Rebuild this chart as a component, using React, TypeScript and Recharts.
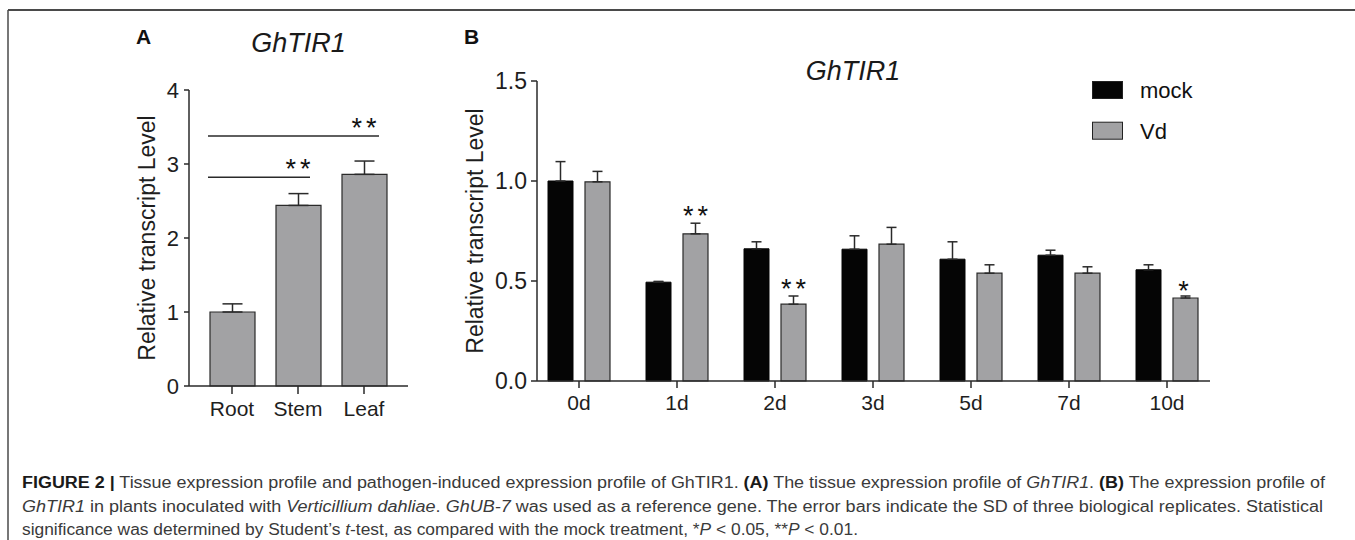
import React from "react";
import {
  BarChart,
  Bar,
  XAxis,
  YAxis,
  ErrorBar,
  ReferenceLine,
  LabelList,
  Legend,
} from "recharts";

const FONT = "'Liberation Sans', Arial, Helvetica, sans-serif";
const INK = "#2a2a2a";
const GREY = "#a2a2a4";

// panel A: tissue expression
const tissues = ["Root", "Stem", "Leaf"];
const tissueLevel = [1.0, 2.44, 2.86];
const tissueSD = [0.11, 0.16, 0.18];
const tissueTicks = [0, 1, 2, 3, 4];
const tissueSig = [
  { from: "Root", to: "Leaf", y: 3.38, stars: "**" },
  { from: "Root", to: "Stem", y: 2.82, stars: "**" },
];

// panel B: time course after Vd inoculation
const days = ["0d", "1d", "2d", "3d", "5d", "7d", "10d"];
const mockLevel = [1.0, 0.494, 0.661, 0.659, 0.609, 0.629, 0.556];
const mockSD = [0.097, 0.004, 0.035, 0.067, 0.087, 0.025, 0.025];
const vdLevel = [0.996, 0.736, 0.384, 0.684, 0.539, 0.539, 0.415];
const vdSD = [0.052, 0.053, 0.041, 0.084, 0.042, 0.032, 0.01];
const vdStars = ["", "**", "**", "", "", "", "*"];
const dayTicks = [0, 0.5, 1.0, 1.5];
const seriesOrder = ["mock", "Vd"];

const tissueData = tissues.map((name, i) => ({
  name,
  level: tissueLevel[i],
  sd: [0, tissueSD[i]],
}));

const dayData = days.map((day, i) => ({
  day,
  mock: mockLevel[i],
  mockSd: [0, mockSD[i]],
  vd: vdLevel[i],
  vdSd: [0, vdSD[i]],
}));

const tickStyle = { fontSize: 21, fill: "#1e1e1e", fontFamily: FONT };
const yTickA = { ...tickStyle, fontSize: 22 };
const yTickB = { ...tickStyle, fontSize: 23 };
const axisLine = { stroke: INK, strokeWidth: 1.5 };

// rotated y-axis title, placed a fixed distance left of the axis line
const AxisTitle = ({ viewBox, gap }: any) => {
  const x = viewBox.x + viewBox.width - gap;
  const y = viewBox.y + viewBox.height / 2;
  return (
    <text
      x={x}
      y={y}
      transform={`rotate(-90 ${x} ${y})`}
      textAnchor="middle"
      dominantBaseline="central"
      fontSize={23}
      fontFamily={FONT}
      fill="#1e1e1e"
    >
      Relative transcript Level
    </text>
  );
};

const starProps = {
  fontSize: 27,
  fontFamily: FONT,
  fill: "#111",
  textAnchor: "middle" as const,
  letterSpacing: 4,
};

const SigBracket = (p: any, sig: any) => (
  <g>
    <line x1={p.x1 - 24} y1={p.y1} x2={p.x2 + (sig.to === "Leaf" ? 15 : 12)} y2={p.y2} stroke={INK} strokeWidth={1.5} />
    <text {...starProps} x={p.x2 + 2} y={p.y1 + 1}>
      {sig.stars}
    </text>
  </g>
);

const VdStar = (props: any) => {
  const { x, y, width, height, value, index } = props;
  const s = vdStars[index];
  if (!s || !value) return null;
  const top = y - (vdSD[index] * height) / value;
  return (
    <text {...starProps} x={x + width / 2 + (s.length > 1 ? 2 : 0)} y={top + (s.length > 1 ? 2 : 4)}>
      {s}
    </text>
  );
};

const LegendContent = (props: any) => {
  const items = [...(props.payload || [])].sort(
    (a: any, b: any) => seriesOrder.indexOf(a.value) - seriesOrder.indexOf(b.value)
  );
  return (
    <svg width={160} height={80} style={{ overflow: "visible" }}>
      {items.map((it: any, i: number) => (
        <g key={it.value} transform={`translate(0 ${i * 40.7})`}>
          <rect x={0.5} y={0.5} width={30} height={17} fill={it.color} stroke="#222" strokeWidth={1} />
          <text x={48} y={17} fontSize={22} fontFamily={FONT} fill="#111">
            {it.value}
          </text>
        </g>
      ))}
    </svg>
  );
};

const App = () => {
  return (
    <div style={{ position: "absolute", left: 0, top: 0, width: 1355, height: 540, background: "#fff" }}>
      <div style={{ position: "absolute", left: 0, top: 0 }}>
        <BarChart
          width={430}
          height={430}
          data={tissueData}
          margin={{ top: 90, right: 22, bottom: 14, left: 0 }}
          barSize={45}
        >
          <XAxis
            dataKey="name"
            height={30}
            interval={0}
            padding={{ left: 10, right: 11 }}
            axisLine={axisLine}
            tickLine={axisLine}
            tickSize={8}
            tickMargin={7}
            tick={tickStyle}
          />
          <YAxis
            width={189}
            domain={[0, 4]}
            ticks={tissueTicks}
            interval={0}
            axisLine={axisLine}
            tickLine={axisLine}
            tickSize={5}
            tickMargin={5}
            tick={yTickA}
            label={<AxisTitle gap={42} />}
          />
          <Bar dataKey="level" fill={GREY} stroke={INK} strokeWidth={1.2} isAnimationActive={false}>
            <ErrorBar dataKey="sd" width={10} stroke={INK} strokeWidth={1.5} direction="y" />
          </Bar>
          {tissueSig.map((sig) => (
            <ReferenceLine
              key={sig.to}
              segment={[
                { x: sig.from, y: sig.y },
                { x: sig.to, y: sig.y },
              ]}
              shape={(p: any) => SigBracket(p, sig)}
            />
          ))}
        </BarChart>
      </div>

      <div style={{ position: "absolute", left: 430, top: 0 }}>
        <BarChart
          width={925}
          height={430}
          data={dayData}
          margin={{ top: 81, right: 145, bottom: 19, left: 0 }}
          barSize={25}
          barGap={12}
        >
          <XAxis
            dataKey="day"
            height={30}
            interval={0}
            padding={{ left: -7, right: -6 }}
            axisLine={axisLine}
            tickLine={axisLine}
            tickSize={7}
            tickMargin={7}
            tick={tickStyle}
          />
          <YAxis
            width={107}
            domain={[0, 1.5]}
            ticks={dayTicks}
            interval={0}
            tickFormatter={(v: number) => v.toFixed(1)}
            axisLine={axisLine}
            tickLine={axisLine}
            tickSize={6}
            tickMargin={4}
            tick={yTickB}
            label={<AxisTitle gap={62} />}
          />
          <Legend
            layout="horizontal"
            verticalAlign="middle"
            align="center"
            content={<LegendContent />}
            wrapperStyle={{ left: 662, top: 81, width: 160, height: 80, overflow: "visible" }}
          />
          <Bar dataKey="mock" name="mock" fill="#050505" stroke="#050505" isAnimationActive={false}>
            <ErrorBar dataKey="mockSd" width={5} stroke={INK} strokeWidth={1.5} direction="y" />
          </Bar>
          <Bar dataKey="vd" name="Vd" fill={GREY} stroke={INK} strokeWidth={1.2} isAnimationActive={false}>
            <ErrorBar dataKey="vdSd" width={5} stroke={INK} strokeWidth={1.5} direction="y" />
            <LabelList dataKey="vd" content={<VdStar />} />
          </Bar>
        </BarChart>
      </div>

      <svg width={1355} height={540} style={{ position: "absolute", left: 0, top: 0, pointerEvents: "none" }}>
        <line x1={8} y1={10} x2={1355} y2={10} stroke="#4a4a4a" strokeWidth={2} />
        <line x1={8} y1={10} x2={8} y2={540} stroke="#4a4a4a" strokeWidth={1.5} />

        <text x={136} y={44} fontSize={21} fontWeight="bold" fontFamily={FONT} fill="#111">A</text>
        <text x={464} y={44} fontSize={21} fontWeight="bold" fontFamily={FONT} fill="#111">B</text>
        <text x={298.5} y={52} fontSize={27} fontStyle="italic" fontFamily={FONT} textAnchor="middle" fill="#1a1a1a">GhTIR1</text>
        <text x={853} y={80} fontSize={27} fontStyle="italic" fontFamily={FONT} textAnchor="middle" fill="#1a1a1a">GhTIR1</text>

        <g fontFamily={FONT} fontSize={16} fill="#3a3a3a">
          <text x={22} y={488} textLength={1303} lengthAdjust="spacingAndGlyphs">
            <tspan fontWeight="bold" fill="#1a1a1a">FIGURE 2 |</tspan> Tissue expression profile and pathogen-induced expression profile of GhTIR1.{" "}
            <tspan fontWeight="bold" fill="#1a1a1a">(A)</tspan> The tissue expression profile of <tspan fontStyle="italic">GhTIR1</tspan>.{" "}
            <tspan fontWeight="bold" fill="#1a1a1a">(B)</tspan> The expression profile of
          </text>
          <text x={22} y={512} textLength={1301} lengthAdjust="spacingAndGlyphs">
            <tspan fontStyle="italic">GhTIR1</tspan> in plants inoculated with <tspan fontStyle="italic">Verticillium dahliae</tspan>.{" "}
            <tspan fontStyle="italic">GhUB-7</tspan> was used as a reference gene. The error bars indicate the SD of three biological replicates. Statistical
          </text>
          <text x={22} y={535} textLength={836} lengthAdjust="spacingAndGlyphs">
            significance was determined by Student’s <tspan fontStyle="italic">t</tspan>-test, as compared with the mock treatment, *<tspan fontStyle="italic">P</tspan> &lt; 0.05, **<tspan fontStyle="italic">P</tspan> &lt; 0.01.
          </text>
        </g>
      </svg>
    </div>
  );
};

export default App;
